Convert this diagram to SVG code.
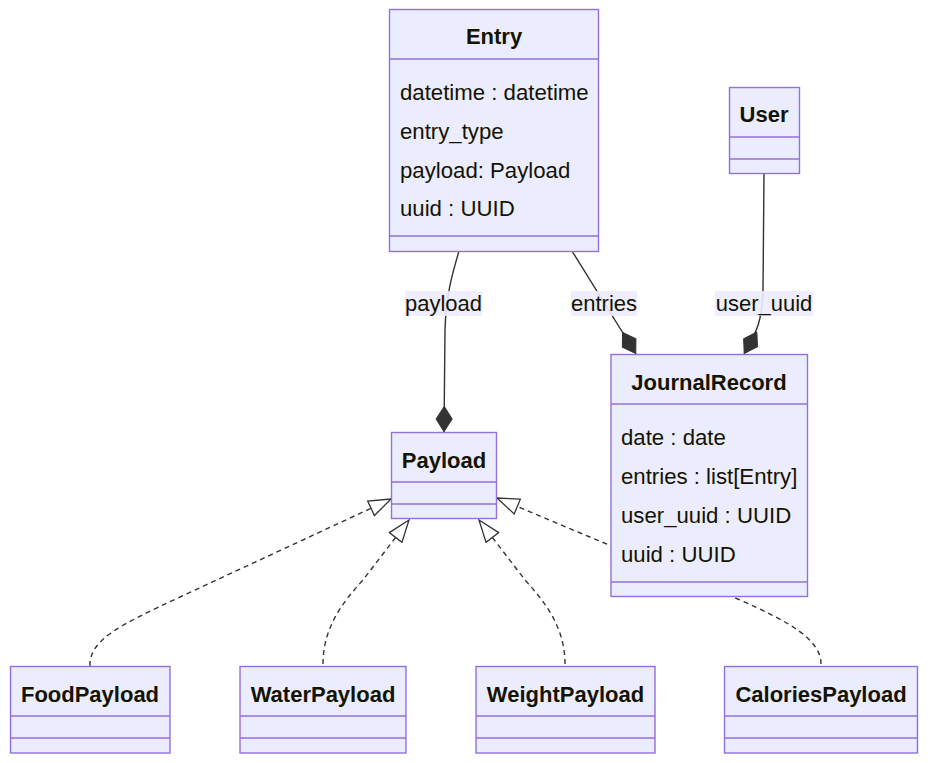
<svg xmlns="http://www.w3.org/2000/svg" width="939" height="763" viewBox="0 0 939 763">
<style>
.box{fill:#ECECFF;stroke:#9370DB;stroke-width:1.4}
.div{stroke:#9370DB;stroke-width:1.4}
.title{font-family:"Liberation Sans",Arial,sans-serif;font-size:22px;font-weight:bold;fill:#131300;text-anchor:middle;dominant-baseline:central}
.mem{font-family:"Liberation Sans",Arial,sans-serif;font-size:22.2px;fill:#131300;dominant-baseline:central}
.lbl{font-family:"Liberation Sans",Arial,sans-serif;font-size:22px;fill:#131300;text-anchor:middle;dominant-baseline:central}
.lblbg{fill:#ECECFF;opacity:0.9}
.edge{fill:none;stroke:#333;stroke-width:1.4}
.dash{stroke-dasharray:5 4}
</style>
<defs>
<marker id="comp" viewBox="0 0 26 18" refX="26" refY="9" markerWidth="26" markerHeight="18" markerUnits="userSpaceOnUse" orient="auto">
<path d="M0.5,9 L13,1 L25.5,9 L13,17 Z" fill="#333" stroke="#333" stroke-width="1"/>
</marker>
<marker id="ext" viewBox="0 0 24 18" refX="23" refY="9" markerWidth="24" markerHeight="18" markerUnits="userSpaceOnUse" orient="auto">
<path d="M23,9 L1,1 L1,17 Z" fill="#fff" stroke="#333" stroke-width="1.3"/>
</marker>
</defs>
<g id="connectors">
<path class="edge" d="M459,251 C452,275 446,295 445,330 L444,432" marker-end="url(#comp)"/>
<path class="edge" d="M572,251 L636,354" marker-end="url(#comp)"/>
<path class="edge" d="M764,174 L763,290 C762,320 758,330 744,354" marker-end="url(#comp)"/>
<path class="edge dash" d="M90,666 C89,640 120,625 180,597 L391,499" marker-end="url(#ext)"/>
<path class="edge dash" d="M323,664 C323,630 340,605 363,580 L409,520" marker-end="url(#ext)"/>
<path class="edge dash" d="M565,664 C565,630 548,605 525,580 L479,520" marker-end="url(#ext)"/>
<path class="edge dash" d="M821,664 C821,640 790,622 740,600 L497,498" marker-end="url(#ext)"/>
<rect class="lblbg" x="405" y="291" width="77" height="25"/>
<text class="lbl" x="443.5" y="303">payload</text>
<rect class="lblbg" x="571" y="291" width="66" height="25"/>
<text class="lbl" x="604" y="303">entries</text>
<rect class="lblbg" x="715" y="291" width="98" height="25"/>
<text class="lbl" x="764" y="303">user_uuid</text>
</g>
<g id="Entry">
<rect class="box" x="389.5" y="9.5" width="209" height="242"/>
<line class="div" x1="389.5" y1="59" x2="598.5" y2="59"/>
<line class="div" x1="389.5" y1="236" x2="598.5" y2="236"/>
<text class="title" x="494" y="36">Entry</text>
<text class="mem" x="400" y="92">datetime : datetime</text>
<text class="mem" x="400" y="131">entry_type</text>
<text class="mem" x="400" y="170">payload: Payload</text>
<text class="mem" x="400" y="208">uuid : UUID</text>
</g>
<g id="User">
<rect class="box" x="729.5" y="87.5" width="70" height="86"/>
<line class="div" x1="729.5" y1="137" x2="799.5" y2="137"/>
<line class="div" x1="729.5" y1="159" x2="799.5" y2="159"/>
<text class="title" x="764" y="114">User</text>
</g>
<g id="JournalRecord">
<rect class="box" x="611" y="354.5" width="196.5" height="242"/>
<line class="div" x1="611" y1="404" x2="807.5" y2="404"/>
<line class="div" x1="611" y1="582" x2="807.5" y2="582"/>
<text class="title" x="709" y="382">JournalRecord</text>
<text class="mem" x="621" y="437">date : date</text>
<text class="mem" x="621" y="476">entries : list[Entry]</text>
<text class="mem" x="621" y="515">user_uuid : UUID</text>
<text class="mem" x="621" y="554">uuid : UUID</text>
</g>
<g id="Payload">
<rect class="box" x="391.5" y="432.5" width="105" height="86"/>
<line class="div" x1="391.5" y1="482" x2="496.5" y2="482"/>
<line class="div" x1="391.5" y1="504" x2="496.5" y2="504"/>
<text class="title" x="444" y="460">Payload</text>
</g>
<g id="FoodPayload">
<rect class="box" x="10.5" y="666.5" width="159.5" height="86.5"/>
<line class="div" x1="10.5" y1="716" x2="170" y2="716"/>
<line class="div" x1="10.5" y1="738" x2="170" y2="738"/>
<text class="title" x="90" y="694">FoodPayload</text>
</g>
<g id="WaterPayload">
<rect class="box" x="240" y="666.5" width="166" height="86.5"/>
<line class="div" x1="240" y1="716" x2="406" y2="716"/>
<line class="div" x1="240" y1="738" x2="406" y2="738"/>
<text class="title" x="323" y="694">WaterPayload</text>
</g>
<g id="WeightPayload">
<rect class="box" x="476" y="666.5" width="179" height="86.5"/>
<line class="div" x1="476" y1="716" x2="655" y2="716"/>
<line class="div" x1="476" y1="738" x2="655" y2="738"/>
<text class="title" x="565.5" y="694">WeightPayload</text>
</g>
<g id="CaloriesPayload">
<rect class="box" x="724.5" y="666.5" width="193" height="86.5"/>
<line class="div" x1="724.5" y1="716" x2="917.5" y2="716"/>
<line class="div" x1="724.5" y1="738" x2="917.5" y2="738"/>
<text class="title" x="821" y="694">CaloriesPayload</text>
</g>
</svg>
